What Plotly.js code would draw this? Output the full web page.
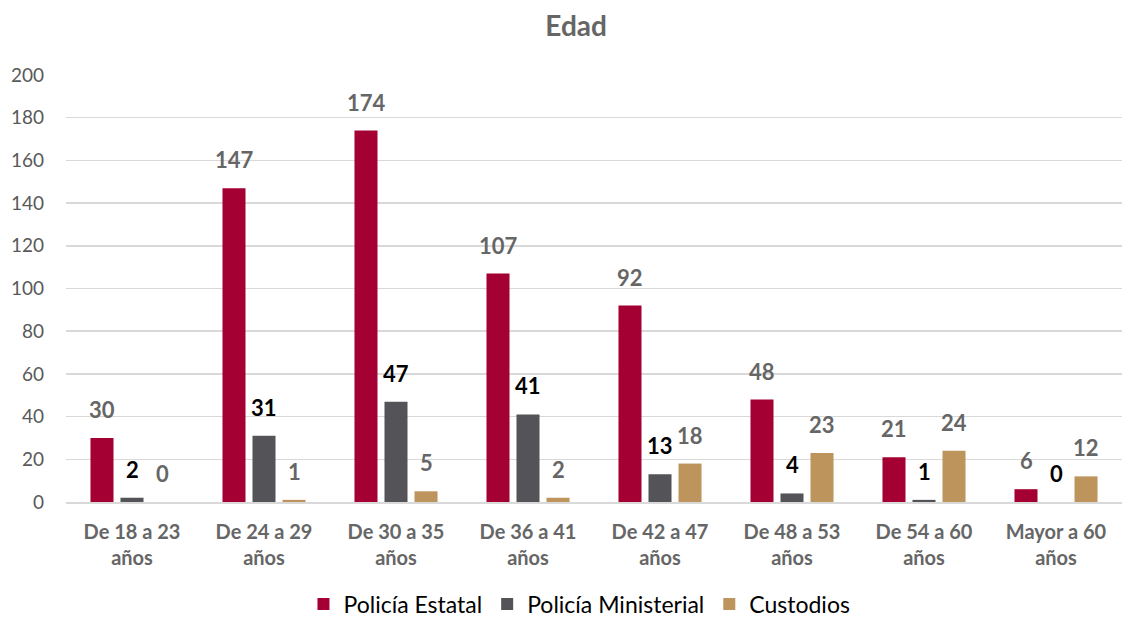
<!DOCTYPE html>
<html>
<head>
<meta charset="utf-8">
<script src="https://cdn.plot.ly/plotly-3.0.1.min.js"></script>
<style>html,body{margin:0;padding:0;background:#fff;}#chart{width:1123px;height:619px;}</style>
</head>
<body>
<div id="chart"></div>
<script>
const categories = ["De 18 a 23<br>años","De 24 a 29<br>años","De 30 a 35<br>años","De 36 a 41<br>años","De 42 a 47<br>años","De 48 a 53<br>años","De 54 a 60<br>años","Mayor a 60<br>años"];
const policiaEstatal = [30,147,174,107,92,48,21,6];
const policiaMinisterial = [2,31,47,41,13,4,1,0];
const custodios = [0,1,5,2,18,23,24,12];
const seriesNames = ["Policía Estatal","Policía Ministerial","Custodios"];
const yTicks = [0,20,40,60,80,100,120,140,160,180,200];

const FONT = "Lato, 'Open Sans', sans-serif";
const seriesVals = [policiaEstatal, policiaMinisterial, custodios];
const colors = ['#A50034', '#545458', '#BC945C'];
const labelColors = ['#666666', '#000000', '#666666'];
const shifts = [-30, 0, 30];

const data = seriesVals.map((vals, i) => ({
  type:'bar', name:seriesNames[i], x:categories, y:vals,
  marker:{color:colors[i]}, hoverinfo:'none'
}));

const annotations = [];
seriesVals.forEach((vals, i) => {
  vals.forEach((v, j) => {
    annotations.push({
      x:categories[j], y:v, xref:'x', yref:'y', text:'<b>'+v+'</b>',
      showarrow:false, xanchor:'center', yanchor:'bottom', xshift:shifts[i], yshift:13,
      font:{family:FONT, size:22, color:labelColors[i]}
    });
  });
});

const layout = {
  width:1123, height:619,
  margin:{l:66, r:1, t:75, b:117},
  paper_bgcolor:'#fff', plot_bgcolor:'#fff',
  title:{text:'<b>Edad</b>', x:0.513, xanchor:'center', y:0.958, yanchor:'middle',
         font:{family:FONT, size:28, color:'#666666'}},
  barmode:'group', bargap:0.318, bargroupgap:0.233,
  font:{family:FONT},
  annotations:annotations,
  xaxis:{tickfont:{family:FONT, size:20, color:'#666666', weight:'bold'},
         showline:true, linecolor:'#d9d9d9', linewidth:1.5, ticks:'', showgrid:false,
         automargin:false, ticklabelstandoff:11},
  yaxis:{range:[0,200], tickvals:yTicks, ticktext:yTicks.map(String),
         tickfont:{family:FONT, size:19, color:'#595959'},
         gridcolor:'#d9d9d9', gridwidth:1.5, zeroline:false, ticks:'', ticklen:0,
         ticklabelstandoff:21, automargin:false},
  legend:{orientation:'h', x:0.516, xanchor:'center', xref:'container', yref:'container', y:0.024, yanchor:'middle',
          font:{family:FONT, size:23, color:'#000'}, itemwidth:20, traceorder:'normal'},
  showlegend:true
};
Plotly.newPlot('chart', data, layout, {displayModeBar:false, staticPlot:true});
</script>
</body>
</html>
